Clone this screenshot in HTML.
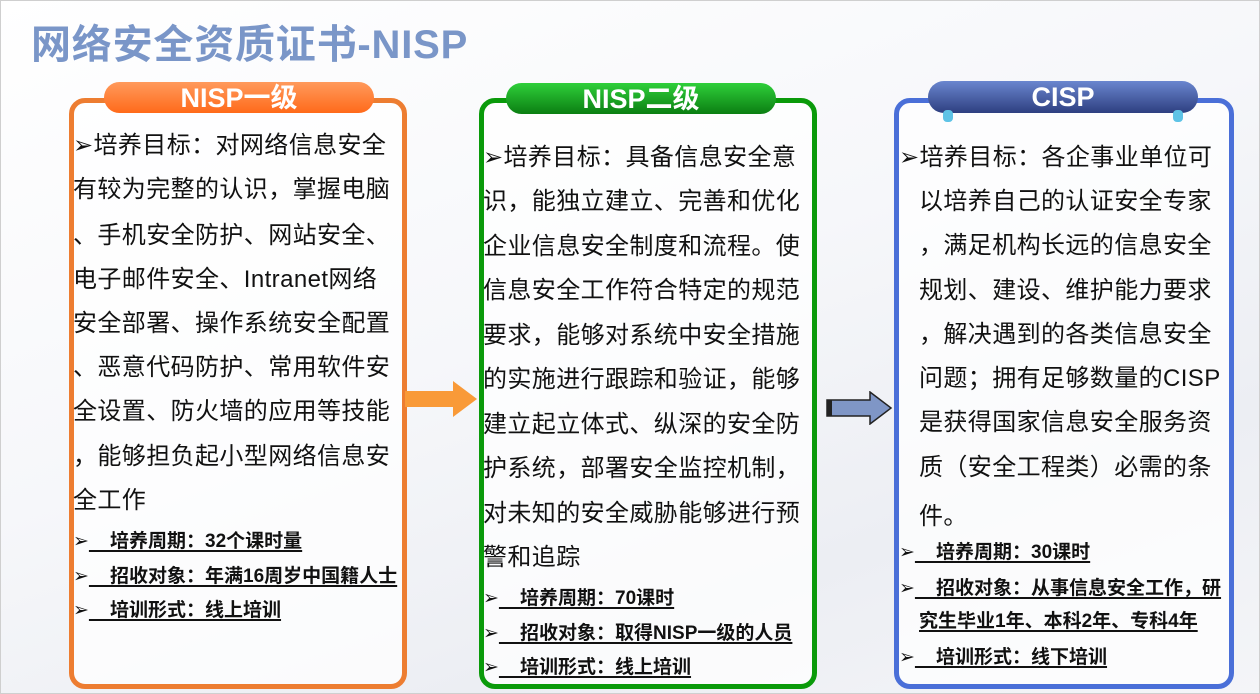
<!DOCTYPE html>
<html><head><meta charset="utf-8">
<style>
*{margin:0;padding:0;box-sizing:border-box}
body{width:1260px;height:694px;overflow:hidden;position:relative;font-family:"Liberation Sans","Noto Sans CJK SC","DejaVu Sans",sans-serif;
background:linear-gradient(160deg,#ffffff 0%,#f6f7fa 45%,#eceef3 75%,#f4f5f8 100%);border:1px solid #cfcfcf}
.title{position:absolute;left:30px;top:11px;font-size:40px;font-weight:bold;color:#7a96c8;letter-spacing:0.8px;white-space:nowrap}
.box{position:absolute;top:97px;height:591px;border-radius:16px;background:rgba(255,255,255,0.75)}
.pill{position:absolute;height:31px;border-radius:16px;color:#fff;font-weight:bold;font-size:27px;text-align:center;line-height:32px}
.l{position:absolute;font-size:24px;line-height:44px;height:44px;white-space:nowrap;color:#111;letter-spacing:0.4px}
.b{position:absolute;font-size:19px;font-weight:bold;line-height:30px;white-space:nowrap;color:#111}
.b u{text-decoration:underline;text-underline-offset:3px;text-decoration-thickness:2px}
</style></head><body>
<div class="title">网络安全资质证书-NISP</div>

<div class="box" style="left:68px;width:338px;border:5px solid #ed7d31"></div>
<div class="pill" style="left:103px;top:81px;width:270px;background:linear-gradient(#ff9a5c,#ff6a1a)">NISP一级</div>
<div class="l" style="left:72px;top:123px">➢培养目标：对网络信息安全</div>
<div class="l" style="left:72px;top:167px">有较为完整的认识，掌握电脑</div>
<div class="l" style="left:72px;top:213px">、手机安全防护、网站安全、</div>
<div class="l" style="left:72px;top:257px">电子邮件安全、Intranet网络</div>
<div class="l" style="left:72px;top:301px">安全部署、操作系统安全配置</div>
<div class="l" style="left:72px;top:345px">、恶意代码防护、常用软件安</div>
<div class="l" style="left:72px;top:389px">全设置、防火墙的应用等技能</div>
<div class="l" style="left:72px;top:434px">，能够担负起小型网络信息安</div>
<div class="l" style="left:72px;top:478px">全工作</div>
<div class="b" style="left:72px;top:526px">➢<u>&nbsp;&nbsp;&nbsp; 培养周期：32个课时量</u></div>
<div class="b" style="left:72px;top:561px">➢<u>&nbsp;&nbsp;&nbsp; 招收对象：年满16周岁中国籍人士</u></div>
<div class="b" style="left:72px;top:595px">➢<u>&nbsp;&nbsp;&nbsp; 培训形式：线上培训</u></div>

<svg style="position:absolute;left:404px;top:378px" width="74" height="40"><polygon points="0,12 48,12 48,2 72,20 48,38 48,28 0,28" fill="#f99a38"/></svg>

<div class="box" style="left:478px;width:338px;border:5px solid #0a9a0a"></div>
<div class="pill" style="left:505px;top:82px;width:270px;background:linear-gradient(#2fcf3a,#0b7e12)">NISP二级</div>
<div class="l" style="left:482px;top:135px">➢培养目标：具备信息安全意</div>
<div class="l" style="left:482px;top:179px">识，能独立建立、完善和优化</div>
<div class="l" style="left:482px;top:224px">企业信息安全制度和流程。使</div>
<div class="l" style="left:482px;top:268px">信息安全工作符合特定的规范</div>
<div class="l" style="left:482px;top:313px">要求，能够对系统中安全措施</div>
<div class="l" style="left:482px;top:357px">的实施进行跟踪和验证，能够</div>
<div class="l" style="left:482px;top:402px">建立起立体式、纵深的安全防</div>
<div class="l" style="left:482px;top:446px">护系统，部署安全监控机制，</div>
<div class="l" style="left:482px;top:491px">对未知的安全威胁能够进行预</div>
<div class="l" style="left:482px;top:535px">警和追踪</div>
<div class="b" style="left:482px;top:583px">➢<u>&nbsp;&nbsp;&nbsp; 培养周期：70课时</u></div>
<div class="b" style="left:482px;top:618px">➢<u>&nbsp;&nbsp;&nbsp; 招收对象：取得NISP一级的人员</u></div>
<div class="b" style="left:482px;top:652px">➢<u>&nbsp;&nbsp;&nbsp; 培训形式：线上培训</u></div>

<svg style="position:absolute;left:825px;top:390px" width="68" height="34"><polygon points="1,9 44,9 44,1 65,17 44,33 44,25 1,25" fill="#7f96c6" stroke="#222" stroke-width="1.5"/><rect x="1" y="9" width="5" height="16" fill="#222"/></svg>

<div class="box" style="left:893px;width:340px;border:5px solid #4a6fd8"></div>
<div class="pill" style="left:927px;top:80px;width:270px;height:32px;background:linear-gradient(#6a86cf,#2e3f80)">CISP</div>
<div style="position:absolute;left:942px;top:109px;width:10px;height:12px;border-radius:4px;background:#5ec3e6"></div>
<div style="position:absolute;left:1172px;top:109px;width:10px;height:12px;border-radius:4px;background:#5ec3e6"></div>
<div class="l" style="left:898px;top:135px">➢培养目标：各企事业单位可</div>
<div class="l" style="left:918px;top:179px">以培养自己的认证安全专家</div>
<div class="l" style="left:918px;top:223px">，满足机构长远的信息安全</div>
<div class="l" style="left:918px;top:268px">规划、建设、维护能力要求</div>
<div class="l" style="left:918px;top:312px">，解决遇到的各类信息安全</div>
<div class="l" style="left:918px;top:356px">问题；拥有足够数量的CISP</div>
<div class="l" style="left:918px;top:400px">是获得国家信息安全服务资</div>
<div class="l" style="left:918px;top:445px">质（安全工程类）必需的条</div>
<div class="l" style="left:918px;top:494px">件。</div>
<div class="b" style="left:898px;top:537px">➢<u>&nbsp;&nbsp;&nbsp; 培养周期：30课时</u></div>
<div class="b" style="left:898px;top:573px">➢<u>&nbsp;&nbsp;&nbsp; 招收对象：从事信息安全工作，研</u></div>
<div class="b" style="left:918px;top:606px"><u>究生毕业1年、本科2年、专科4年</u></div>
<div class="b" style="left:898px;top:642px">➢<u>&nbsp;&nbsp;&nbsp; 培训形式：线下培训</u></div>
</body></html>
